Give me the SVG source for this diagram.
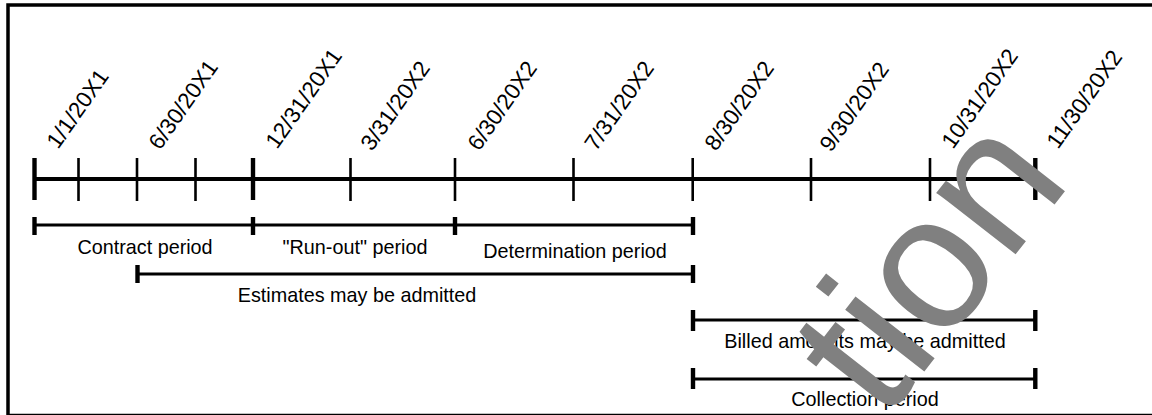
<svg xmlns="http://www.w3.org/2000/svg" width="1152" height="415" viewBox="0 0 1152 415">
<style>
.ln{stroke:#000;fill:none}
.main{stroke-width:4}
.bar{stroke-width:3}
.tk{stroke-width:2.6}
.tkb{stroke-width:4.4}
.date{font-family:"Liberation Sans",Arial,sans-serif;font-size:22.5px;fill:#000}
.lbl{font-family:"Liberation Sans",Arial,sans-serif;font-size:19.8px;fill:#000;text-anchor:middle}
.wm{font-family:"Liberation Sans",Arial,sans-serif;font-size:190px;fill:#808080}
</style>
<rect x="8" y="5" width="1150" height="410.5" fill="#fff" stroke="#000" stroke-width="3.5"/>
<g id="connectors">
<g id="timeline">
<line class="ln main" x1="34" y1="179" x2="1035" y2="179"/>
<line class="ln tkb" x1="34.5" y1="158" x2="34.5" y2="200"/>
<line class="ln tk" x1="78.5" y1="158" x2="78.5" y2="201"/>
<line class="ln tk" x1="137" y1="158" x2="137" y2="201"/>
<line class="ln tk" x1="195.5" y1="158" x2="195.5" y2="201"/>
<line class="ln tkb" x1="253" y1="158" x2="253" y2="200"/>
<line class="ln tk" x1="350.5" y1="158" x2="350.5" y2="201"/>
<line class="ln tk" x1="455" y1="158" x2="455" y2="201"/>
<line class="ln tk" x1="573.5" y1="158" x2="573.5" y2="201"/>
<line class="ln tk" x1="692.7" y1="158" x2="692.7" y2="201"/>
<line class="ln tk" x1="811" y1="158" x2="811" y2="201"/>
<line class="ln tk" x1="930" y1="158" x2="930" y2="201"/>
<line class="ln tkb" x1="1035.3" y1="158" x2="1035.3" y2="200"/>
</g>
<g id="bar-contract">
<line class="ln bar" x1="34" y1="225" x2="693" y2="225"/>
<line class="ln tkb" x1="34.5" y1="217" x2="34.5" y2="235"/>
<line class="ln tkb" x1="253" y1="217" x2="253" y2="235"/>
<line class="ln tkb" x1="455" y1="217" x2="455" y2="235"/>
<line class="ln tkb" x1="693" y1="217" x2="693" y2="235"/>
</g>
<g id="bar-estimates">
<line class="ln bar" x1="137" y1="274" x2="693" y2="274"/>
<line class="ln tkb" x1="137.5" y1="265" x2="137.5" y2="283"/>
<line class="ln tkb" x1="693" y1="265" x2="693" y2="283"/>
</g>
<g id="bar-billed">
<line class="ln bar" x1="693" y1="320" x2="1035" y2="320"/>
<line class="ln tkb" x1="693" y1="310" x2="693" y2="331"/>
<line class="ln tkb" x1="1035.3" y1="310" x2="1035.3" y2="331"/>
</g>
<g id="bar-collection">
<line class="ln bar" x1="693" y1="379" x2="1035" y2="379"/>
<line class="ln tkb" x1="693" y1="368" x2="693" y2="389"/>
<line class="ln tkb" x1="1035.3" y1="368" x2="1035.3" y2="389"/>
</g>
</g>
<g id="dates">
<text class="date" transform="translate(58,150) rotate(-55)">1/1/20X1</text>
<text class="date" transform="translate(160,151) rotate(-55)">6/30/20X1</text>
<text class="date" transform="translate(277,150) rotate(-55)">12/31/20X1</text>
<text class="date" transform="translate(372,152) rotate(-55)">3/31/20X2</text>
<text class="date" transform="translate(479,152) rotate(-55)">6/30/20X2</text>
<text class="date" transform="translate(596,152) rotate(-55)">7/31/20X2</text>
<text class="date" transform="translate(716,152) rotate(-55)">8/30/20X2</text>
<text class="date" transform="translate(831,153) rotate(-55)">9/30/20X2</text>
<text class="date" transform="translate(953,150) rotate(-55)">10/31/20X2</text>
<text class="date" transform="translate(1058,150) rotate(-55)">11/30/20X2</text>
</g>
<g id="labels">
<text id="contract-period" class="lbl" x="145" y="254">Contract period</text>
<text id="runout-period" class="lbl" x="355" y="254">"Run-out" period</text>
<text id="determination-period" class="lbl" x="575" y="258">Determination period</text>
<text id="estimates" class="lbl" x="357" y="302">Estimates may be admitted</text>
<text id="billed" class="lbl" x="865" y="348">Billed amounts may be admitted</text>
<text id="collection" class="lbl" x="865" y="406">Collection period</text>
</g>
<g id="watermark">
<text class="wm" transform="translate(884,423) rotate(-52)">tion</text>
</g>
</svg>
